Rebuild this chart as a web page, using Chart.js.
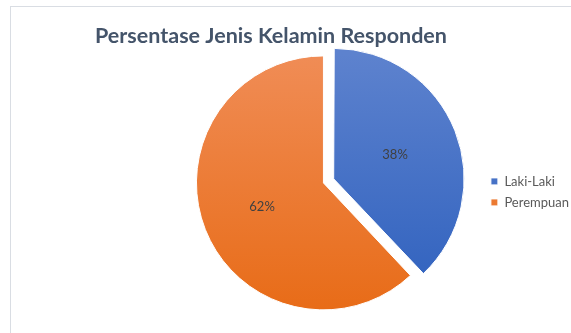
<!DOCTYPE html>
<html>
<head>
<meta charset="utf-8">
<script src="https://cdn.jsdelivr.net/npm/chart.js@4/dist/chart.umd.min.js"></script>
<style>
  html, body { margin: 0; padding: 0; width: 571px; height: 333px; overflow: hidden; background: #fff; }
  #frame { position: absolute; left: 10px; top: 6px; width: 700px; height: 400px; border-left: 1px solid #d9dde3; border-top: 1px solid #d9dde3; }
  #wrap { position: absolute; left: 0; top: 0; width: 600px; height: 333px; }
</style>
</head>
<body>
<div id="frame"></div>
<div id="wrap"><canvas id="pie" width="600" height="333"></canvas></div>
<script>
  // values
  const categories = ['Laki-Laki', 'Perempuan'];
  const shares = [38, 62];

  const fills = [
    ['#5d82ce', '#2f61be'],
    ['#f08c55', '#e86c18']
  ];

  function sliceFill(c) {
    const area = c.chart.chartArea;
    const pair = fills[c.dataIndex % fills.length];
    if (!area) return pair[1];
    const g = c.chart.ctx.createLinearGradient(0, area.top, 0, area.bottom);
    g.addColorStop(0, pair[0]);
    g.addColorStop(1, pair[1]);
    return g;
  }

  // Excel-like placement of title and legend
  const placeBlocks = {
    id: 'placeBlocks',
    afterLayout(chart) {
      const t = chart.titleBlock;
      if (t) { t.left = 0; t.right = 542; }
      const l = chart.legend;
      if (l) { l.top += 9; l.bottom += 9; }
    }
  };

  const pctLabels = {
    id: 'pctLabels',
    afterDatasetsDraw(chart) {
      const ctx = chart.ctx;
      const meta = chart.getDatasetMeta(0);
      const total = shares.reduce((a, b) => a + b, 0);
      ctx.save();
      ctx.font = '13px Lato';
      ctx.fillStyle = '#404040';
      ctx.textAlign = 'center';
      ctx.textBaseline = 'middle';
      meta.data.forEach((arc, i) => {
        const p = arc.getProps(['x', 'y', 'startAngle', 'endAngle', 'outerRadius']);
        const mid = (p.startAngle + p.endAngle) / 2;
        const r = p.outerRadius * 0.52 + (arc.options.offset || 0) / 4;
        const txt = Math.round(shares[i] / total * 100) + '%';
        ctx.fillText(txt, p.x + Math.cos(mid) * r, p.y + Math.sin(mid) * r);
      });
      ctx.restore();
    }
  };

  Chart.defaults.font.family = 'Lato';

  new Chart(document.getElementById('pie'), {
    type: 'pie',
    data: {
      labels: categories,
      datasets: [{
        data: shares,
        backgroundColor: sliceFill,
        borderColor: '#ffffff',
        borderWidth: 1,
        offset: [44, 0],
        radius: 127
      }]
    },
    options: {
      responsive: false,
      animation: false,
      layout: { padding: { left: 164, right: 21, top: 0, bottom: 25 } },
      plugins: {
        title: {
          display: true,
          text: 'Persentase Jenis Kelamin Responden',
          color: '#44546a',
          font: { size: 21.5, weight: 'bold', family: 'Lato' },
          padding: { top: 23, bottom: 9 }
        },
        legend: {
          position: 'right',
          fullSize: false,
          labels: {
            boxWidth: 7,
            boxHeight: 7,
            padding: 8,
            color: '#595959',
            font: { size: 13, family: 'Lato' }
          }
        },
        tooltip: { enabled: false }
      }
    },
    plugins: [placeBlocks, pctLabels]
  });
</script>
</body>
</html>
